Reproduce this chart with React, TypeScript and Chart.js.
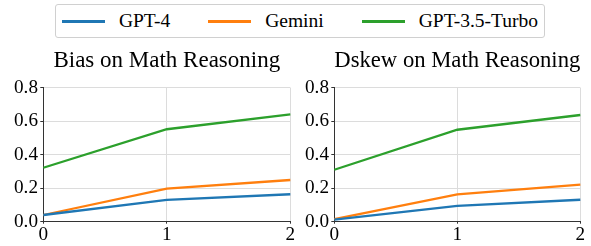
import React, { useEffect, useRef } from 'react';
import { Chart, registerables } from 'chart.js';

Chart.register(...registerables);

const FONT = "'Liberation Serif', 'Times New Roman', serif";

const xLabels = ['0', '1', '2'];
const seriesNames = ['GPT-4', 'Gemini', 'GPT-3.5-Turbo'];
const seriesColors = ['#1f77b4', '#ff7f0e', '#2ca02c'];
const yTicks = [0, 0.2, 0.4, 0.6, 0.8];

const biasGPT4 = [0.04, 0.13, 0.164];
const biasGemini = [0.04, 0.197, 0.249];
const biasGPT35 = [0.322, 0.552, 0.641];

const dskewGPT4 = [0.012, 0.094, 0.131];
const dskewGemini = [0.016, 0.163, 0.221];
const dskewGPT35 = [0.31, 0.549, 0.637];

const titles = ['Bias on Math Reasoning', 'Dskew on Math Reasoning'];

type PanelProps = {
  title: string;
  series: number[][];
  left: number;
  width: number;
  yWidth: number;
  padRight: number;
};

const CANVAS_TOP = 40;
const CANVAS_H = 206;

function Panel({ title, series, left, width, yWidth, padRight }: PanelProps) {
  const ref = useRef<HTMLCanvasElement>(null);
  useEffect(() => {
    const chart = new Chart(ref.current!, {
      type: 'line',
      data: {
        labels: xLabels,
        datasets: series.map((d, i) => ({
          label: seriesNames[i],
          data: d,
          borderColor: seriesColors[i],
          backgroundColor: seriesColors[i],
          borderWidth: 2.3,
          pointRadius: 0,
          tension: 0,
          fill: false,
        })),
      },
      options: {
        animation: false,
        responsive: false,
        maintainAspectRatio: false,
        layout: { padding: { left: 0, right: padRight, top: 0, bottom: 0 } },
        plugins: {
          legend: { display: false },
          tooltip: { enabled: false },
          title: {
            display: true,
            text: title,
            fullSize: false,
            color: '#000',
            font: { family: FONT, size: 23, weight: 'normal', lineHeight: 1.2 },
            padding: { top: 7.5, bottom: 12.6 },
          },
        },
        scales: {
          x: {
            type: 'category',
            offset: false,
            grid: { color: '#dcdcdc', tickColor: '#333', tickLength: 2, lineWidth: 1, drawTicks: true },
            border: { color: '#333', width: 1 },
            ticks: {
              color: '#000',
              font: { family: FONT, size: 19.2 },
              padding: 0,
              maxRotation: 0,
              autoSkip: false,
            },
            afterFit: (s: any) => {
              s.height = 24.3;
            },
          },
          y: {
            min: 0,
            max: 0.8,
            afterBuildTicks: (s: any) => {
              s.ticks = yTicks.map((v) => ({ value: v }));
            },
            grid: { color: '#dcdcdc', tickColor: '#333', tickLength: 3, lineWidth: 1, drawTicks: true },
            border: { color: '#333', width: 1 },
            ticks: {
              color: '#000',
              font: { family: FONT, size: 19.2 },
              padding: 2.3,
              callback: (v: any) => Number(v).toFixed(1),
            },
            afterFit: (s: any) => {
              s.width = yWidth;
            },
          },
        },
      },
    } as any);
    return () => chart.destroy();
  }, []);
  return (
    <canvas
      ref={ref}
      width={width}
      height={CANVAS_H}
      style={{ position: 'absolute', left, top: CANVAS_TOP, width, height: CANVAS_H }}
    />
  );
}

function Legend() {
  return (
    <div
      style={{
        position: 'absolute',
        left: 55,
        top: 4,
        width: 490,
        height: 34,
        boxSizing: 'border-box',
        border: '1px solid #d0d0d0',
        borderRadius: 3,
        display: 'flex',
        alignItems: 'center',
        justifyContent: 'center',
        fontFamily: FONT,
        fontSize: 19.5,
        color: '#000',
        background: '#fff',
      }}
    >
      {seriesNames.map((n, i) => (
        <div key={n} style={{ display: 'flex', alignItems: 'center', marginRight: i < seriesNames.length - 1 ? 38 : 0 }}>
          <div style={{ width: 43, height: 3, background: seriesColors[i], marginRight: 14 }} />
          <span style={{ lineHeight: '20px' }}>{n}</span>
        </div>
      ))}
    </div>
  );
}

export default function App() {
  return (
    <div style={{ position: 'fixed', left: 0, top: 0, width: 591, height: 246, background: '#fff', overflow: 'hidden' }}>
      <Legend />
      <Panel title={titles[0]} series={[biasGPT4, biasGemini, biasGPT35]} left={0} width={296} yWidth={43.3} padRight={5.7} />
      <Panel title={titles[1]} series={[dskewGPT4, dskewGemini, dskewGPT35]} left={296} width={295} yWidth={38.3} padRight={10.7} />
    </div>
  );
}
